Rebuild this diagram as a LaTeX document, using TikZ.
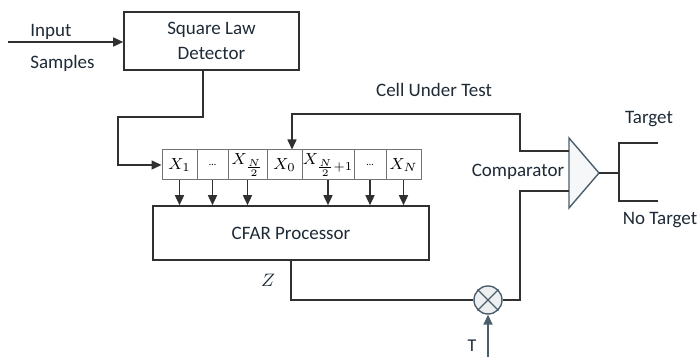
\documentclass[tikz,border=0pt]{standalone}
\usepackage{fontspec}
\setmainfont{Carlito}
\usetikzlibrary{arrows.meta}
\definecolor{txt}{HTML}{1E2A36}
\definecolor{wirec}{HTML}{303030}
\definecolor{blk}{HTML}{4A5E6C}
\begin{document}
\begin{tikzpicture}[x=0.5pt, y=-0.5pt,
    box/.style ={draw=wirec, line width=0.8pt, inner sep=0pt, align=center, text=txt,
                 font=\fontsize{9.5}{12.5}\selectfont},
    cell/.style ={draw=black!55, line width=0.5pt, inner sep=0pt, minimum height=15pt,
                 font=\fontsize{8.5}{10}\selectfont},
    lbl/.style ={inner sep=0pt, text=txt, font=\fontsize{9.5}{11}\selectfont},
    wire/.style ={draw=wirec, line width=0.8pt},
    arr/.style ={wire, -{Triangle[length=5pt,width=4.5pt]}}]
   \useasboundingbox (0,0) rectangle (698,357);
   % detector and input
   \node[box, minimum width=87.5pt, minimum height=29pt] (det) at (211.5,41) {Square Law\\Detector};
   \coordinate (in) at (8,42);
   \node[lbl, anchor=west] (inp) at (30,32) {Input};
   \node[lbl, anchor=west] (smp) at (30,63) {Samples};
   \draw[arr] (in) -- (in -| det.west);
   % reference cells
   \node[cell, minimum width=17.5pt] (c1) at (179.5,165) {$X_1$};
   \node[cell, minimum width=15.5pt] (c2) at (212.5,165) {\tiny\dots};
   \node[cell, minimum width=19.5pt] (c3) at (247.5,165) {$X_{\frac{N}{2}}$};
   \node[cell, minimum width=17.5pt] (c4) at (284.5,165) {$X_0$};
   \node[cell, minimum width=26pt] (c5) at (328,165) {$X_{\frac{N}{2}+1}$};
   \node[cell, minimum width=16pt] (c6) at (370,165) {\tiny\dots};
   \node[cell, minimum width=17.5pt] (c7) at (403.5,165) {$X_N$};
   \draw[arr] ([xshift=-4.25pt]det.south) |- (118,117) |- (c1.west);
   % processor
   \node[box, minimum width=138pt, minimum height=27pt] (cfar) at (291,233) {CFAR Processor};
   \foreach \c in {c1,c2,c3,c5,c6,c7}
     \draw[arr] (\c.south) -- (\c.south |- cfar.north);
   % multiplier
   \node[circle, draw=blk, fill=blk!10, line width=0.7pt, minimum size=14pt, inner sep=0pt] (mul) at (488,300) {};
   \draw[blk, line width=0.6pt] (mul.north west) -- (mul.south east) (mul.north east) -- (mul.south west);
   \node[lbl, font=\fontsize{9}{10}\selectfont] (Z) at (268,280) {$Z$};
   \node[lbl, font=\fontsize{9}{10}\selectfont] (T) at (472,346) {T};
   \coordinate (tin) at (488,360);
   \draw[wire] (cfar.south) |- (mul.west);
   \draw[arr, draw=blk] (tin) -- (mul.south);
   % comparator
   \coordinate (cmpA) at (569,151);
   \coordinate (cmpB) at (569,191);
   \coordinate (cmpO) at (599,173);
   \draw[blk, fill=blk!5, line width=0.7pt] (569,138) -- (cmpO) -- (569,208) -- cycle;
   \node[lbl] (cmp) at (518,172) {Comparator};
   \draw[wire] (mul.east) -| (520,191) -- (cmpB);
   \coordinate (cut) at (292,114);
   \draw[arr] (cmpA) -- (520,151) |- (cut) -- (cut |- c4.north);
   \node[lbl] (cutl) at (434,90) {Cell Under Test};
   % decision
   \draw[wire] (cmpO) -- (619,173);
   \draw[wire] (658,143) -| (619,201) -- (658,201);
   \node[lbl] (tgt) at (649,119) {Target};
   \node[lbl] (ntg) at (660,220) {No Target};
 \end{tikzpicture}
\end{document}
